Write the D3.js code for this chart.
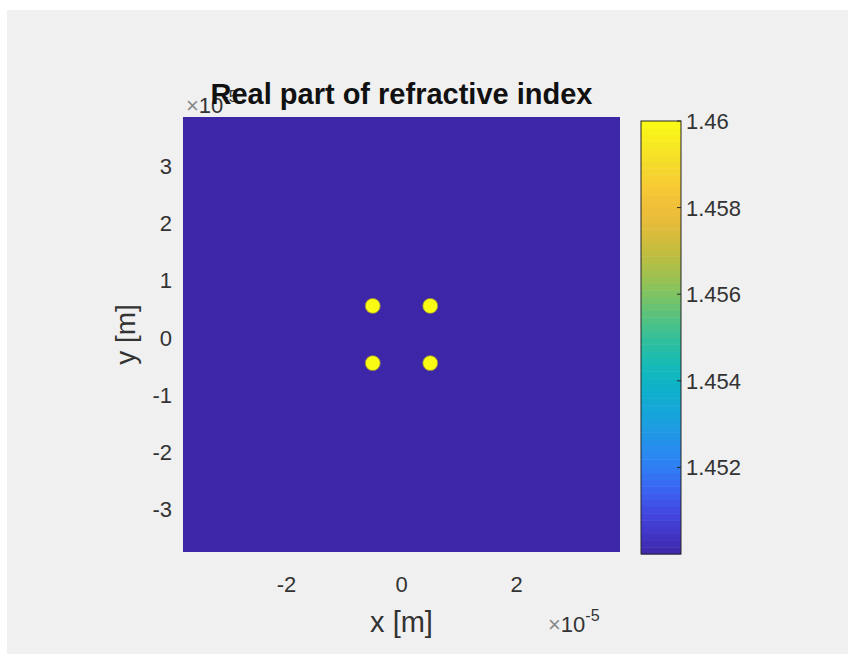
<!DOCTYPE html>
<html>
<head>
    <meta charset="utf-8">
    <title>Real part of refractive index</title>
    <script src="https://d3js.org/d3.v7.min.js"></script>
    <style>
        html, body { margin: 0; padding: 0; background: #ffffff; }
        text { font-family: "Liberation Sans", Arial, sans-serif; }
    </style>
</head>
<body>
    <div id="chart"></div>
    <script>
// fibre cores (metres) and index values
const coreX = [-0.5e-5, 0.5e-5, -0.5e-5, 0.5e-5];
const coreY = [0.5e-5, 0.5e-5, -0.5e-5, -0.5e-5];
const coreRadius = [0.13e-5, 0.13e-5, 0.13e-5, 0.13e-5];
const nCore = 1.46;
const nCladding = 1.45;

const xDomain = [-3.8e-5, 3.8e-5];
const yDomain = [-3.8e-5, 3.8e-5];
const xTicks = [-2e-5, 0, 2e-5];
const yTicks = [-3e-5, -2e-5, -1e-5, 0, 1e-5, 2e-5, 3e-5];
const cbTicks = [1.452, 1.454, 1.456, 1.458, 1.46];
const cbTickLabels = ['1.452', '1.454', '1.456', '1.458', '1.46'];

// parula control colours
const parulaStops = ['#3e26a8', '#4746eb', '#2f82fb', '#1d9ee0', '#04b7c8',
    '#2ec09b', '#81c55f', '#c6bc37', '#f8ba3d', '#f5da2b', '#f9fb15'];

const width = 848;
const height = 654;

const svg = d3.select('#chart')
    .append('svg')
    .attr('width', width)
    .attr('height', height);

// figure background (white strip on top/left like the screenshot)
svg.append('rect')
    .attr('x', 7).attr('y', 10)
    .attr('width', width - 7).attr('height', height - 10)
    .attr('fill', '#f0f0f0');

const plot = { left: 183, right: 620, top: 117, bottom: 552 };

const x = d3.scaleLinear().domain(xDomain).range([plot.left, plot.right]);
const y = d3.scaleLinear().domain(yDomain).range([plot.bottom, plot.top]);
const color = d3.scaleSequential(d3.interpolateRgbBasis(parulaStops))
    .domain([nCladding, nCore]);

const cores = coreX.map((cx, i) => ({ x: cx, y: coreY[i], r: coreRadius[i] }));

// cladding
svg.append('rect')
    .attr('x', x(xDomain[0]))
    .attr('y', y(yDomain[1]))
    .attr('width', x(xDomain[1]) - x(xDomain[0]))
    .attr('height', y(yDomain[0]) - y(yDomain[1]))
    .attr('fill', color(nCladding));

// cores
svg.append('g')
    .selectAll('circle')
    .data(cores)
    .enter()
    .append('circle')
    .attr('cx', d => x(d.x))
    .attr('cy', d => y(d.y))
    .attr('r', d => x(d.r) - x(0))
    .attr('fill', color(nCore))
    .attr('stroke', '#8f8a3a')
    .attr('stroke-width', 0.8);

const tickColor = '#333333';
const fmt = d => String(Math.round(d * 1e5));

// x tick labels
svg.append('g')
    .selectAll('text')
    .data(xTicks)
    .enter()
    .append('text')
    .attr('x', d => x(d))
    .attr('y', 592)
    .attr('text-anchor', 'middle')
    .attr('font-size', 22)
    .attr('fill', tickColor)
    .text(fmt);

// y tick labels
svg.append('g')
    .selectAll('text')
    .data(yTicks)
    .enter()
    .append('text')
    .attr('x', 172)
    .attr('y', d => y(d) + 11)
    .attr('text-anchor', 'end')
    .attr('font-size', 22)
    .attr('fill', tickColor)
    .text(fmt);

// axis labels
svg.append('text')
    .attr('x', (plot.left + plot.right) / 2)
    .attr('y', 632)
    .attr('text-anchor', 'middle')
    .attr('font-size', 29)
    .attr('fill', tickColor)
    .text('x [m]');

svg.append('text')
    .attr('transform', `translate(135, ${(plot.top + plot.bottom) / 2}) rotate(-90)`)
    .attr('text-anchor', 'middle')
    .attr('font-size', 28)
    .attr('fill', tickColor)
    .text('y [m]');

// exponent markers
function exponent(px, py) {
    const t = svg.append('text')
        .attr('x', px)
        .attr('y', py)
        .attr('font-size', 22)
        .attr('fill', tickColor);
    t.append('tspan').attr('fill', '#888888').text('\u00d7');
    t.append('tspan').text('10');
    t.append('tspan').attr('font-size', 16).attr('dy', -11).text('-5');
}
exponent(548, 632);
exponent(186, 113);

// title
svg.append('text')
    .attr('x', (plot.left + plot.right) / 2)
    .attr('y', 104)
    .attr('text-anchor', 'middle')
    .attr('font-size', 29)
    .attr('font-weight', 'bold')
    .attr('fill', '#111')
    .text('Real part of refractive index');

// colorbar
const cb = { left: 641, right: 681, top: 121, bottom: 554 };
const cbScale = d3.scaleLinear().domain([nCladding, nCore]).range([cb.bottom, cb.top]);
const levels = d3.range(64).map(i => nCladding + (nCore - nCladding) * i / 64);
const step = (nCore - nCladding) / 64;

svg.append('g')
    .selectAll('rect')
    .data(levels)
    .enter()
    .append('rect')
    .attr('x', cb.left)
    .attr('width', cb.right - cb.left)
    .attr('y', d => cbScale(d + step))
    .attr('height', d => cbScale(d) - cbScale(d + step) + 0.5)
    .attr('fill', d => color(d + step / 2));

svg.append('rect')
    .attr('x', cb.left).attr('y', cb.top)
    .attr('width', cb.right - cb.left)
    .attr('height', cb.bottom - cb.top)
    .attr('fill', 'none')
    .attr('stroke', '#262626')
    .attr('stroke-width', 1);

svg.append('g')
    .selectAll('line')
    .data(cbTicks)
    .enter()
    .append('line')
    .attr('x1', cb.right - 4)
    .attr('x2', cb.right)
    .attr('y1', d => cbScale(d))
    .attr('y2', d => cbScale(d))
    .attr('stroke', '#262626');

svg.append('g')
    .selectAll('text')
    .data(cbTicks)
    .enter()
    .append('text')
    .attr('x', 686)
    .attr('y', d => cbScale(d) + 8)
    .attr('font-size', 22)
    .attr('fill', tickColor)
    .text((d, i) => cbTickLabels[i]);
    </script>
</body>
</html>
